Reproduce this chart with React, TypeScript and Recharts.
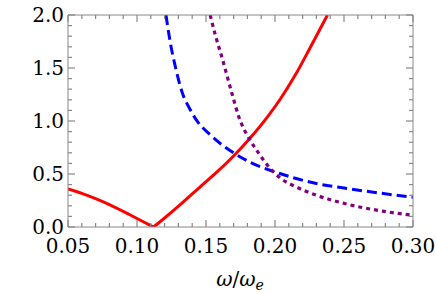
import React from 'react';
import { LineChart, Line, XAxis, YAxis } from 'recharts';

// tick positions (minor every 0.01 / 0.1, labels on the majors)
const X_TICKS = [
  0.05, 0.06, 0.07, 0.08, 0.09, 0.1, 0.11, 0.12, 0.13, 0.14, 0.15, 0.16, 0.17,
  0.18, 0.19, 0.2, 0.21, 0.22, 0.23, 0.24, 0.25, 0.26, 0.27, 0.28, 0.29, 0.3,
];
const X_LABELS = ['0.05', '0.10', '0.15', '0.20', '0.25', '0.30'];
const Y_TICKS = [
  0, 0.1, 0.2, 0.3, 0.4, 0.5, 0.6, 0.7, 0.8, 0.9, 1, 1.1, 1.2, 1.3, 1.4, 1.5,
  1.6, 1.7, 1.8, 1.9, 2,
];
const Y_LABELS = ['0.0', '0.5', '1.0', '1.5', '2.0'];

// red solid curve, split at the cusp
const redLeft = [
  { w: 0.05, v: 0.36 },
  { w: 0.06, v: 0.318 },
  { w: 0.07, v: 0.268 },
  { w: 0.08, v: 0.212 },
  { w: 0.09, v: 0.148 },
  { w: 0.1, v: 0.08 },
  { w: 0.112, v: 0 },
];
const redRight = [
  { w: 0.112, v: 0 },
  { w: 0.12, v: 0.085 },
  { w: 0.133, v: 0.23 },
  { w: 0.145, v: 0.37 },
  { w: 0.158, v: 0.52 },
  { w: 0.17, v: 0.67 },
  { w: 0.182, v: 0.84 },
  { w: 0.194, v: 1.03 },
  { w: 0.204, v: 1.21 },
  { w: 0.215, v: 1.44 },
  { w: 0.225, v: 1.68 },
  { w: 0.238, v: 2.0 },
];

// blue dashed curve
const blue = [
  { w: 0.121, v: 2.0 },
  { w: 0.124, v: 1.75 },
  { w: 0.128, v: 1.5 },
  { w: 0.133, v: 1.26 },
  { w: 0.138, v: 1.12 },
  { w: 0.143, v: 1.01 },
  { w: 0.153, v: 0.87 },
  { w: 0.17, v: 0.7 },
  { w: 0.182, v: 0.61 },
  { w: 0.2, v: 0.52 },
  { w: 0.23, v: 0.41 },
  { w: 0.254, v: 0.36 },
  { w: 0.3, v: 0.28 },
];

// purple dotted curve
const purple = [
  { w: 0.153, v: 2.0 },
  { w: 0.157, v: 1.8 },
  { w: 0.162, v: 1.58 },
  { w: 0.169, v: 1.25 },
  { w: 0.174, v: 1.03 },
  { w: 0.181, v: 0.84 },
  { w: 0.188, v: 0.7 },
  { w: 0.195, v: 0.575 },
  { w: 0.204, v: 0.46 },
  { w: 0.215, v: 0.38 },
  { w: 0.23, v: 0.3 },
  { w: 0.254, v: 0.21 },
  { w: 0.278, v: 0.15 },
  { w: 0.3, v: 0.11 },
];

const FRAME = '#888888';
const FONT = 'DejaVu Serif';
const FS = 20;

const xLabel = (v: number) => X_LABELS.find((s) => Math.abs(parseFloat(s) - v) < 1e-6);
const yLabel = (v: number) => Y_LABELS.find((s) => Math.abs(parseFloat(s) - v) < 1e-6);

const BottomTick = (p: any) => {
  const lab = xLabel(p.payload.value);
  return (
    <g>
      <line x1={p.x} x2={p.x} y1={p.y} y2={p.y - (lab ? 7 : 4)} stroke={FRAME} strokeWidth={1.2} />
      {lab && (
        <text x={p.x} y={p.y + 26} textAnchor="middle" fontFamily={FONT} fontSize={FS} fill="#000">
          {lab}
        </text>
      )}
    </g>
  );
};

const TopTick = (p: any) => {
  const lab = xLabel(p.payload.value);
  return <line x1={p.x} x2={p.x} y1={p.y} y2={p.y + (lab ? 7 : 4)} stroke={FRAME} strokeWidth={1.2} />;
};

const LeftTick = (p: any) => {
  const lab = yLabel(p.payload.value);
  return (
    <g>
      <line x1={p.x} x2={p.x + (lab ? 7 : 4)} y1={p.y} y2={p.y} stroke={FRAME} strokeWidth={1.2} />
      {lab && (
        <text x={p.x - 4} y={p.y + 7} textAnchor="end" fontFamily={FONT} fontSize={FS} fill="#000">
          {lab}
        </text>
      )}
    </g>
  );
};

const RightTick = (p: any) => {
  const lab = yLabel(p.payload.value);
  return <line x1={p.x} x2={p.x - (lab ? 7 : 4)} y1={p.y} y2={p.y} stroke={FRAME} strokeWidth={1.2} />;
};

const AxisTitle = () => (
  <text x={240} y={286} textAnchor="middle" fontFamily={FONT} fontSize={FS} fill="#000">
    <tspan fontStyle="italic">ω</tspan>
    <tspan>/</tspan>
    <tspan fontStyle="italic">ω</tspan>
    <tspan fontStyle="italic" fontSize={14} dy={4}>e</tspan>
  </text>
);

export default function App() {
  return (
    <div style={{ position: 'absolute', left: 0, top: 0 }}>
      {/* top/right axes get 1px so they still render; margins make the plot 68..413 x 15..227 */}
      <LineChart width={436} height={294} margin={{ top: 14, right: 22, bottom: 37, left: 8 }}>
        <XAxis
          xAxisId="b"
          dataKey="w"
          type="number"
          domain={[0.05, 0.3]}
          ticks={X_TICKS}
          interval={0}
          allowDataOverflow
          height={30}
          tickSize={0}
          tickMargin={0}
          tickLine={false}
          stroke={FRAME}
          tick={BottomTick}
          label={{ content: AxisTitle }}
        />
        <XAxis
          xAxisId="t"
          orientation="top"
          dataKey="w"
          type="number"
          domain={[0.05, 0.3]}
          ticks={X_TICKS}
          interval={0}
          allowDataOverflow
          height={1}
          tickSize={0}
          tickMargin={0}
          tickLine={false}
          stroke={FRAME}
          tick={TopTick}
        />
        <YAxis
          yAxisId="l"
          type="number"
          domain={[0, 2]}
          ticks={Y_TICKS}
          interval={0}
          allowDataOverflow
          width={60}
          tickSize={0}
          tickMargin={0}
          tickLine={false}
          stroke={FRAME}
          tick={LeftTick}
        />
        <YAxis
          yAxisId="r"
          orientation="right"
          type="number"
          domain={[0, 2]}
          ticks={Y_TICKS}
          interval={0}
          allowDataOverflow
          width={1}
          tickSize={0}
          tickMargin={0}
          tickLine={false}
          stroke={FRAME}
          tick={RightTick}
        />
        <Line xAxisId="b" yAxisId="l" data={redLeft} dataKey="v" type="monotone" stroke="#ff0000" strokeWidth={3} dot={false} isAnimationActive={false} />
        <Line xAxisId="b" yAxisId="l" data={redRight} dataKey="v" type="monotone" stroke="#ff0000" strokeWidth={3} dot={false} isAnimationActive={false} />
        <Line xAxisId="b" yAxisId="l" data={blue} dataKey="v" type="monotone" stroke="#0000ff" strokeWidth={3} strokeDasharray="10 5" dot={false} isAnimationActive={false} />
        <Line xAxisId="b" yAxisId="l" data={purple} dataKey="v" type="monotone" stroke="#800080" strokeWidth={3.2} strokeDasharray="4 4" dot={false} isAnimationActive={false} />
      </LineChart>
    </div>
  );
}
